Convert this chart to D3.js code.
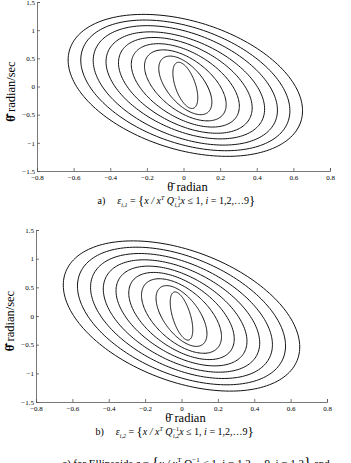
<!DOCTYPE html>
<html>
<head>
<meta charset="utf-8">
<script src="https://cdn.jsdelivr.net/npm/d3@7"></script>
<style>
  body { margin: 0; background: #fff; }
  svg { display: block; }
  text { font-family: "Liberation Serif", "Times New Roman", "DejaVu Serif", serif; fill: #000; }
</style>
</head>
<body>
<script>
// axis ticks
const thetaTicks = [-0.8, -0.6, -0.4, -0.2, 0, 0.2, 0.4, 0.6, 0.8]
const rateTicks = [-1.5, -1, -0.5, 0, 0.5, 1, 1.5]

// ellipsoids of panel a (outer -> inner): half width in theta, top in rate, rate at rightmost point
const halfWidthA = [0.64, 0.571, 0.503, 0.433, 0.365, 0.295, 0.223, 0.145, 0.068]
const topA = [1.26, 1.16, 1.06, 0.95, 0.85, 0.74, 0.63, 0.52, 0.41]
const tiltA = [-0.45, -0.45, -0.44, -0.42, -0.40, -0.37, -0.34, -0.30, -0.22]
const centerA = [0.01, 0.02]

// ellipsoids of panel b
const halfWidthB = [0.65, 0.572, 0.5, 0.43, 0.36, 0.29, 0.22, 0.14, 0.062]
const topB = [1.31, 1.20, 1.09, 0.98, 0.87, 0.76, 0.65, 0.53, 0.42]
const tiltB = [-0.54, -0.52, -0.50, -0.47, -0.44, -0.40, -0.36, -0.31, -0.24]
const centerB = [0.0, 0.0]

const measurements = { width: 351, height: 463 }
const serif = "'Liberation Serif', 'Times New Roman', serif"

const svg = d3.select("body").append("svg")
    .attr("width", measurements.width)
    .attr("height", measurements.height)
    .style("font-family", serif)

// one panel: axes + nested ellipses
function drawPanel(box, halfWidth, top, tilt, center, tag, sub) {
    const x = d3.scaleLinear().domain([-0.8, 0.8]).range([box.left, box.right])
    const y = d3.scaleLinear().domain([-1.5, 1.5]).range([box.bottom, box.top])

    const g = svg.append("g")

    // x^T Q^-1 x = 1  ->  x = L u, with Q = L L^T
    const line = d3.line()
        .x(d => x(d[0]))
        .y(d => y(d[1]))
        .curve(d3.curveLinearClosed)

    halfWidth.forEach(function (hw, i) {
        const s = Math.sqrt(top[i] * top[i] - tilt[i] * tilt[i])
        const pts = d3.range(0, 360, 2).map(function (deg) {
            const t = deg * Math.PI / 180
            return [center[0] + hw * Math.cos(t), center[1] + tilt[i] * Math.cos(t) + s * Math.sin(t)]
        })
        g.append("path")
            .attr("d", line(pts))
            .attr("fill", "none")
            .attr("stroke", "#111")
            .attr("stroke-width", 1)
    })

    // axes with inward ticks
    const xAxis = g.append("g")
        .attr("transform", `translate(0,${box.bottom})`)
        .call(d3.axisBottom(x).tickValues(thetaTicks).tickSize(-3).tickFormat(d3.format("")))
    const yAxis = g.append("g")
        .attr("transform", `translate(${box.left},0)`)
        .call(d3.axisLeft(y).tickValues(rateTicks).tickSize(-3).tickFormat(d3.format("")))

    ;[xAxis, yAxis].forEach(function (ax) {
        ax.attr("font-family", null)
        ax.select(".domain").attr("stroke", "#555").attr("stroke-width", 0.8)
        ax.selectAll(".tick line").attr("stroke", "#555").attr("stroke-width", 0.8)
        ax.selectAll("text")
            .style("font-family", serif)
            .attr("font-size", 7)
            .attr("fill", "#222")
    })
    xAxis.selectAll("text").attr("y", 4).attr("dy", "0.71em")
    yAxis.selectAll("text").attr("x", -2)

    // x label
    g.append("text")
        .attr("x", x(0) + 4)
        .attr("y", box.bottom + 20)
        .attr("text-anchor", "middle")
        .attr("font-size", 12.5)
        .text("\u03B8\u0304 radian")

    // y label
    g.append("text")
        .attr("transform", `translate(${box.left - 22},${y(0) + 5}) rotate(-90)`)
        .attr("text-anchor", "middle")
        .attr("font-size", 12.5)
        .call(t => {
            t.append("tspan").attr("font-weight", "bold").text("\u03B8\u0307\u0304")
            t.append("tspan").text(" radian/sec")
        })

    // caption
    const cap = g.append("text")
        .attr("x", x(0) - 86)
        .attr("y", box.bottom + 33)
        .attr("font-size", 10)
    cap.append("tspan").text(tag + ")")
    cap.append("tspan").attr("dx", 12).attr("font-style", "italic").text("\u03B5")
    cap.append("tspan").attr("font-style", "italic").attr("font-size", 6).attr("dy", 2.5).text("i," + sub)
    cap.append("tspan").attr("dy", -2.5).text(" = ")
    cap.append("tspan").attr("font-size", 13).attr("dy", 1).text("{")
    cap.append("tspan").attr("font-style", "italic").attr("dy", -1).text("x / x")
    cap.append("tspan").attr("font-style", "italic").attr("font-size", 6).attr("dy", -4).text("T")
    cap.append("tspan").attr("font-style", "italic").attr("dy", 4).text(" Q")
    cap.append("tspan").attr("font-size", 6).attr("dy", -4).text("\u22121")
    cap.append("tspan").attr("font-style", "italic").attr("font-size", 6).attr("dx", -6).attr("dy", 7).text("i," + sub)
    cap.append("tspan").attr("font-style", "italic").attr("dy", -3).text("x")
    cap.append("tspan").text(" \u2264 1, ")
    cap.append("tspan").attr("font-style", "italic").text("i")
    cap.append("tspan").text(" = 1,2,\u20269")
    cap.append("tspan").attr("font-size", 13).attr("dy", 1).text("}")
}

drawPanel({ left: 37, right: 330, top: 2, bottom: 171 }, halfWidthA, topA, tiltA, centerA, "a", "1")
drawPanel({ left: 36, right: 327, top: 230, bottom: 402 }, halfWidthB, topB, tiltB, centerB, "b", "2")

// cut-off line of the text below the figure
const foot = svg.append("text")
    .attr("x", 62)
    .attr("y", 467)
    .attr("font-size", 11)
foot.append("tspan").text("c)  for Ellipsoids  ")
foot.append("tspan").attr("font-style", "italic").text("\u03B5")
foot.append("tspan").text(" = ")
foot.append("tspan").attr("font-size", 15).text("{")
foot.append("tspan").attr("font-style", "italic").text("x / x")
foot.append("tspan").attr("font-size", 7).attr("dy", -5).text("T")
foot.append("tspan").attr("dy", 5).text(" Q")
foot.append("tspan").attr("font-size", 7).attr("dy", -5).text("\u22121")
foot.append("tspan").attr("dy", 5).text(" \u2264 1, i = 1,2,\u20269, j = 1,2")
foot.append("tspan").attr("font-size", 15).text("}")
foot.append("tspan").text("    and")
</script>
</body>
</html>
